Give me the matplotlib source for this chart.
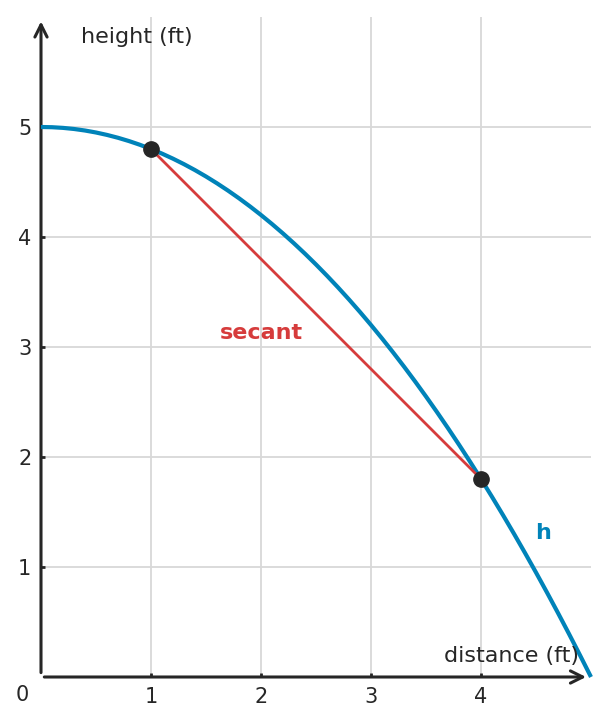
import matplotlib.pyplot as plt

dist = [0, 0.1, 0.2, 0.3, 0.4, 0.5, 0.6, 0.7, 0.8, 0.9, 1, 1.1, 1.2, 1.3,
        1.4, 1.5, 1.6, 1.7, 1.8, 1.9, 2, 2.1, 2.2, 2.3, 2.4, 2.5, 2.6, 2.7,
        2.8, 2.9, 3, 3.1, 3.2, 3.3, 3.4, 3.5, 3.6, 3.7, 3.8, 3.9, 4, 4.1,
        4.2, 4.3, 4.4, 4.5, 4.6, 4.7, 4.8, 4.9, 5]
height = [5, 4.998, 4.992, 4.982, 4.968, 4.95, 4.928, 4.902, 4.872, 4.838,
          4.8, 4.758, 4.712, 4.662, 4.608, 4.55, 4.488, 4.422, 4.352, 4.278,
          4.2, 4.118, 4.032, 3.942, 3.848, 3.75, 3.648, 3.542, 3.432, 3.318,
          3.2, 3.078, 2.952, 2.822, 2.688, 2.55, 2.408, 2.262, 2.112, 1.958,
          1.8, 1.638, 1.472, 1.302, 1.128, 0.95, 0.768, 0.582, 0.392, 0.198,
          0]

# secant end points
sec_x = [1, 4]
sec_y = [4.8, 1.8]

x_ticks = [1, 2, 3, 4]
y_ticks = [1, 2, 3, 4, 5]

blue = "#0083b9"
red = "#d63c3c"
dark = "#262626"
fs = 16

fig = plt.figure(figsize=(6.08, 7.25), dpi=100)
ax = fig.add_axes([41 / 608, 48 / 725, 550 / 608, 660 / 725])
ax.set_xlim(0, 5)
ax.set_ylim(0, 6)

for s in ax.spines.values():
    s.set_visible(False)

ax.set_xticks(x_ticks)
ax.set_yticks(y_ticks)
ax.grid(True, color="#d8d8d8", linewidth=1.3)
ax.tick_params(axis="both", direction="in", length=3, width=2, color=dark,
               labelsize=fs - 1, labelcolor=dark)
ax.tick_params(axis="x", pad=7)
ax.tick_params(axis="y", pad=7)

# axes with arrows
ax.annotate("", xy=(4.955, 0), xytext=(0.03, 0),
            arrowprops=dict(arrowstyle="->", color=dark, lw=2.2,
                            mutation_scale=22, shrinkA=0, shrinkB=0),
            annotation_clip=False)
ax.annotate("", xy=(0, 5.96), xytext=(0, 0.04),
            arrowprops=dict(arrowstyle="->", color=dark, lw=2.2,
                            mutation_scale=22, shrinkA=0, shrinkB=0),
            annotation_clip=False)

ax.plot(dist, height, color=blue, lw=3, solid_capstyle="butt",
        solid_joinstyle="round", zorder=3, clip_on=False)
ax.plot(sec_x, sec_y, color=red, lw=2, zorder=3)
ax.plot(sec_x, sec_y, "o", color=dark, markersize=11, zorder=4)

ax.text(2.0, 3.13, "secant", color=red, fontsize=fs, fontweight="bold",
        ha="center", va="center")
ax.text(4.56, 1.31, "h", color=blue, fontsize=fs, fontweight="bold",
        ha="center", va="center")
ax.text(0.36, 5.82, "height (ft)", color=dark, fontsize=fs,
        ha="left", va="center")
ax.text(4.89, 0.19, "distance (ft)", color=dark, fontsize=fs,
        ha="right", va="center")
ax.text(-0.17, -0.165, "0", color=dark, fontsize=fs - 1, ha="center",
        va="center")

fig.savefig("out.png", dpi=100)
